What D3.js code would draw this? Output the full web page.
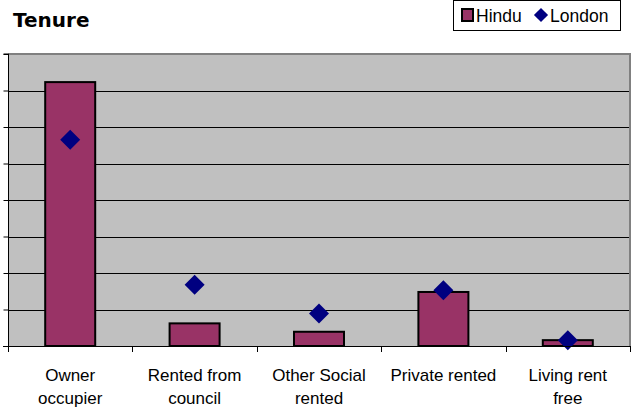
<!DOCTYPE html>
<html>
<head>
<meta charset="utf-8">
<script src="https://cdn.jsdelivr.net/npm/d3@7"></script>
<style>
  body { margin: 0; background: #fff; }
  svg { display: block; }
</style>
</head>
<body>
<svg id="chart" width="634" height="412"></svg>
<script>
const categories = [["Owner", "occupier"], ["Rented from", "council"], ["Other Social", "rented"], ["Private rented"], ["Living rent", "free"]];
const hindu = [72.3, 6.2, 3.9, 14.8, 1.6];
const london = [56.5, 16.8, 8.9, 15.3, 1.6];
const yTicks = [0, 10, 20, 30, 40, 50, 60, 70, 80];

const svg = d3.select("#chart");
const L = 8, R = 630, T = 54, B = 346;
const font = "'Liberation Sans', Arial, sans-serif";

const x = d3.scaleBand().domain(d3.range(categories.length)).range([L, R]).paddingInner(0).paddingOuter(0);
const y = d3.scaleLinear().domain([0, 80]).range([B, T]);

// plot background
svg.append("rect").attr("x", L).attr("y", T).attr("width", R - L).attr("height", B - T).attr("fill", "#c0c0c0");

// gridlines
svg.append("g").selectAll("line").data(yTicks.filter(d => d > 0 && d < 80)).join("line")
  .attr("x1", L).attr("x2", R).attr("y1", d => Math.round(y(d)) + 0.5).attr("y2", d => Math.round(y(d)) + 0.5)
  .attr("stroke", "#000").attr("stroke-width", 1);

// top and right borders (gray)
svg.append("line").attr("x1", L).attr("x2", R + 1).attr("y1", T).attr("y2", T).attr("stroke", "#808080").attr("stroke-width", 2);
svg.append("line").attr("x1", R).attr("x2", R).attr("y1", T).attr("y2", B).attr("stroke", "#808080").attr("stroke-width", 2);

// bars
const bw = 50;
svg.append("g").selectAll("rect").data(hindu).join("rect")
  .attr("x", (d, i) => x(i) + x.bandwidth() / 2 - bw / 2)
  .attr("y", d => y(d))
  .attr("width", bw)
  .attr("height", d => B - y(d))
  .attr("fill", "#993366").attr("stroke", "#000").attr("stroke-width", 2);

// London diamonds
const dia = d3.symbol().type(d3.symbolSquare).size(200);
svg.append("g").selectAll("path").data(london).join("path")
  .attr("d", dia)
  .attr("transform", (d, i) => `translate(${x(i) + x.bandwidth() / 2},${y(d)}) rotate(45)`)
  .attr("fill", "#000080");

// y axis
const yAxis = d3.axisLeft(y).tickValues(yTicks).tickSize(5).tickFormat("");
const gy = svg.append("g").attr("transform", `translate(${L + 0.5},0)`).call(yAxis);
gy.select(".domain").attr("stroke", "#000").attr("d", `M-5,${T}H0V${B}`);
gy.selectAll(".tick line").attr("stroke", "#000");

// x axis
const xTickPos = d3.range(categories.length + 1).map(i => i === categories.length ? R : x(i));
const gx = svg.append("g");
gx.append("line").attr("x1", L - 5).attr("x2", R).attr("y1", B + 0.5).attr("y2", B + 0.5).attr("stroke", "#000");
gx.selectAll("line.t").data(xTickPos).join("line").attr("class", "t")
  .attr("x1", d => Math.round(d) + 0.5).attr("x2", d => Math.round(d) + 0.5)
  .attr("y1", B).attr("y2", B + 6).attr("stroke", "#000");

// category labels
const lab = svg.append("g").selectAll("text").data(categories).join("text")
  .attr("x", (d, i) => x(i) + x.bandwidth() / 2)
  .attr("y", 381)
  .attr("text-anchor", "middle")
  .attr("font-family", font).attr("font-size", 17).attr("fill", "#000");
lab.selectAll("tspan").data(d => d).join("tspan")
  .attr("x", function () { return d3.select(this.parentNode).attr("x"); })
  .attr("dy", (d, i) => i === 0 ? 0 : 23)
  .text(d => d);

// title
svg.append("text").attr("x", 13).attr("y", 27).text("Tenure")
  .attr("font-family", "'DejaVu Sans', Verdana, sans-serif").attr("font-weight", "bold").attr("font-size", 20).attr("fill", "#000");

// legend
const lg = svg.append("g");
lg.append("rect").attr("x", 453.5).attr("y", 0.5).attr("width", 167).attr("height", 30).attr("fill", "#fff").attr("stroke", "#000");
lg.append("rect").attr("x", 462).attr("y", 9).attr("width", 11).attr("height", 12).attr("fill", "#993366").attr("stroke", "#000").attr("stroke-width", 2);
lg.append("text").attr("x", 476).attr("y", 22).text("Hindu").attr("font-family", font).attr("font-size", 17.5);
lg.append("path").attr("d", d3.symbol().type(d3.symbolSquare).size(100)).attr("transform", "translate(541,15) rotate(45)").attr("fill", "#000080");
lg.append("text").attr("x", 550).attr("y", 22).text("London").attr("font-family", font).attr("font-size", 17.5);
</script>
</body>
</html>
